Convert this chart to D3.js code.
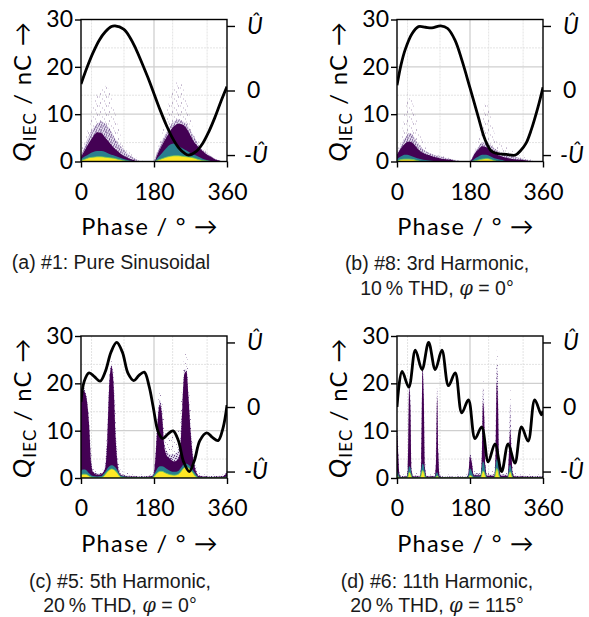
<!DOCTYPE html>
<html><head><meta charset="utf-8">
<script src="https://cdn.jsdelivr.net/npm/d3@7"></script>
<style>body{margin:0;background:#fff} svg{display:block}</style>
</head><body>
<svg id="fig" width="589" height="617"></svg>
<script>
// ---------------- data ----------------
const phaseTicks = [0, 180, 360];
const chargeTicks = [0, 10, 20, 30];
const voltTicks = [-1, 0, 1];
const voltTickLabels = ["-Û", "0", "Û"];
const minorPhaseGrid = [26, 106, 226, 311];
const majorPhaseGrid = [180];
const minorChargeGrid = [4, 14, 24];
const majorChargeGrid = [10, 20];

// cloud rows: [phase°, sparse top, halo top, dense top, teal top, yellow top] in nC
const cloudA = [
 [0,2,1.5,1.0,0.5,0.2],[10,5,3.5,2.5,1.1,0.5],[20,8,5.5,4.0,1.6,0.8],[30,12,7,5.3,2.0,0.9],
 [40,14.5,8,6.2,2.2,1.0],[50,15.5,8.5,6.0,2.2,1.0],[60,16,8,5.0,2.0,0.9],[70,15,7,4.0,1.6,0.8],
 [80,12,5.5,3.0,1.3,0.7],[90,8,4,2.2,1.0,0.5],[100,5,3,1.5,0.7,0.3],[110,3,2,1.0,0.4,0.1],
 [120,2,1.3,0.6,0.2,0],[130,1.2,0.8,0.3,0.1,0],[140,0.6,0.3,0,0,0],[150,0.2,0,0,0,0],
 [160,0,0,0,0,0],[176,0,0,0,0,0],[180,0.3,0.2,0,0,0],[190,3,2.5,1.8,0.9,0.3],
 [200,6,4.5,3.5,1.8,0.6],[210,10,6,5.0,2.8,0.9],[220,14,7.5,6.5,3.6,1.1],[230,16,8.5,7.5,3.8,1.2],
 [240,17,9,8.0,3.3,1.2],[250,16,8.5,7.8,2.8,1.1],[260,13,8,7.0,2.3,1.0],[270,9,6.5,5.5,1.8,0.9],
 [280,6,5,4.0,1.4,0.7],[290,4.5,3.5,3.0,1.0,0.4],[300,3,2.5,2.2,0.6,0.2],[310,2,1.8,1.5,0.3,0.1],
 [320,1.2,1.2,1.0,0.1,0],[330,0.6,0.6,0.5,0,0],[340,0.3,0.3,0.2,0,0],[350,0,0,0,0,0],[360,0,0,0,0,0]
];
const cloudB = [
 [0,2,1.8,1.5,0.5,0.1],[10,5,3.5,2.8,1.1,0.4],[20,11,5,3.8,1.4,0.5],[30,15,6,4.2,1.3,0.5],
 [40,12,5.5,3.8,1.0,0.4],[50,8,4,2.8,0.7,0.2],[60,5,3,2.0,0.5,0],[70,3,2.2,1.6,0.3,0],
 [80,2.2,1.8,1.3,0.2,0],[90,1.8,1.5,1.0,0.1,0],[100,1.5,1.2,0.8,0,0],[110,1.2,1.0,0.6,0,0],
 [120,1.0,0.8,0.5,0,0],[130,0.8,0.6,0.4,0,0],[140,0.5,0.4,0.2,0,0],[150,0.3,0.2,0,0,0],
 [160,0,0,0,0,0],[178,0,0,0,0,0],[185,1,0.8,0.6,0.2,0],[190,2,1.8,1.5,0.5,0.1],
 [200,5,3,2.5,1.0,0.3],[210,9,4,3.2,1.4,0.5],[220,13,4,3.0,1.4,0.6],[230,10,3.5,2.5,1.1,0.5],
 [240,6,2.8,1.8,0.7,0.2],[250,4,2.2,1.3,0.5,0],[260,3.5,1.8,1.0,0.3,0],[270,3,1.5,0.8,0,0],
 [280,2.5,1.2,0.6,0,0],[290,2,1.0,0.5,0,0],[300,1.5,0.8,0.4,0,0],[310,1,0.6,0.3,0,0],
 [320,0.8,0.4,0.2,0,0],[330,0.4,0.2,0,0,0],[340,0,0,0,0,0],[360,0,0,0,0,0]
];
const cloudC = [
 [0,17,16.5,16,1.5,0.6],[5,19.5,19,18.5,1.8,0.8],[10,19,18.5,18,1.8,0.8],[15,17,16.5,16,1.5,0.7],
 [20,13,12,11,1.0,0.4],[25,6,4,3,0.6,0.2],[30,2.5,1.5,1.2,0.4,0.1],[40,1.5,1.0,0.7,0.3,0],
 [50,1.5,1.0,0.8,0.4,0.1],[55,2,1.5,1.2,0.8,0.3],[60,4,3,2.2,1.3,0.8],[65,12,10,8,2.0,1.3],
 [70,22,21,20,2.5,1.7],[75,25,24,23.5,2.7,1.9],[80,23,21.5,20,2.6,1.8],[85,15,11,9,2.2,1.5],
 [90,6,4,3,1.6,1.0],[95,2.5,1.5,1.0,0.8,0.4],[100,1.5,0.8,0.6,0.4,0.1],[120,1.0,0.5,0.3,0.2,0],
 [150,0.8,0.4,0.2,0.1,0],[175,1.0,0.6,0.4,0.2,0],[180,2,1.5,1.0,0.8,0.3],[185,8,7,6,1.5,0.8],
 [190,16,14,13,2.2,1.2],[195,19,16.5,15.5,2.5,1.4],[200,17,14,13,2.5,1.4],[205,12,8,7,2.3,1.2],
 [210,10,6,5,2.0,1.0],[220,9,5,4,1.5,0.7],[230,9,5,3.5,1.3,0.6],[240,10,6,4,1.5,0.8],
 [245,14,8,6,2.0,1.2],[250,20,16,15,2.6,1.8],[255,26,23,22,3.0,2.2],[260,26.5,23,22.5,3.0,2.3],
 [265,22,18,17,2.8,2.1],[270,15,11,10,2.4,1.7],[275,8,6,5,1.8,1.2],[280,4,3,2.5,1.2,0.6],
 [285,2,1.5,1.0,0.6,0.2],[290,1.0,0.6,0.4,0.2,0],[320,0.8,0.4,0.2,0,0],[350,0.8,0.5,0.3,0.1,0],
 [360,1.8,1.5,1.2,0.4,0.1]
];
const cloudD = [
 [0,12,11,10,1.5,0.5],[3,8,6,5,1.0,0.3],[6,2,1.2,0.8,0.3,0],[10,0.8,0.4,0.2,0,0],
 [24,0.8,0.5,0.3,0.1,0],[27,5,3,2,1.0,0.3],[30,22,20.5,19,2.5,1.2],[33,20,17,15,2.2,1.0],
 [36,4,2,1.5,0.8,0.2],[40,1,0.5,0.3,0.1,0],[57,1,0.6,0.3,0.2,0],[60,8,5,4,1.8,0.8],
 [63,25,24,23,3.0,1.6],[66,22,19,17,2.6,1.3],[69,5,3,2,1.0,0.3],[73,1,0.5,0.3,0.1,0],
 [93,1,0.5,0.3,0.1,0],[96,8,4,3,0.8,0.2],[99,21,19,17,1.2,0.5],[102,10,6,5,0.6,0.2],
 [105,1.5,0.8,0.4,0.1,0],[110,0.8,0.3,0.1,0,0],[170,0.8,0.3,0.1,0,0],[176,2,1.2,0.8,0.5,0.1],
 [180,6,5,4.5,2.0,0.6],[184,5,4,3.5,1.5,0.4],[189,1.5,1.0,0.6,0.3,0],[206,1.5,1.0,0.6,0.3,0],
 [209,8,5,4,2.0,0.8],[212,21,19,16,3.5,1.5],[215,18,15,13,3.0,1.2],[218,5,3,2.5,1.2,0.4],
 [222,1.5,0.8,0.5,0.2,0],[240,1.5,0.8,0.5,0.2,0],[243,10,6,5,2.5,1.0],[246,27,24,20,4.0,2.0],
 [249,24,20,16,3.5,1.5],[252,6,4,3,1.2,0.4],[256,1.5,0.8,0.5,0.2,0],[273,1.5,0.8,0.5,0.2,0],
 [276,10,6,5,2.0,0.8],[279,20,16,10,2.8,1.3],[282,12,8,6,2.0,0.8],[285,3,1.5,1.0,0.5,0.1],
 [290,1,0.5,0.3,0,0],[360,0.8,0.4,0.2,0,0]
];

// supply voltage, [phase°, U/Û]
const voltA = [[0,0.10],[15,0.36],[30,0.59],[45,0.78],[60,0.91],[75,0.99],[84,1.0],[105,0.95],[120,0.83],
 [135,0.65],[150,0.43],[165,0.20],[180,-0.05],[195,-0.30],[210,-0.53],[225,-0.73],[240,-0.88],[255,-0.97],
 [265,-1.0],[285,-0.94],[300,-0.82],[315,-0.64],[330,-0.42],[345,-0.17],[360,0.06]];
const voltB = [[0,0.08],[10,0.40],[20,0.63],[37,0.88],[53,0.99],[70,0.98],[86,0.97],[108,1.0],[125,0.96],
 [143,0.78],[160,0.47],[180,0.04],[200,-0.40],[217,-0.76],[233,-0.94],[250,-0.98],[270,-0.99],[292,-1.0],
 [305,-0.93],[318,-0.82],[331,-0.61],[348,-0.25],[360,0.05]];
const voltC = [[0,0.08],[8,0.40],[20,0.53],[33,0.47],[47,0.40],[60,0.55],[74,0.85],[88,1.0],[102,0.85],
 [116,0.52],[130,0.41],[143,0.49],[156,0.54],[168,0.32],[178,0.0],[190,-0.38],[201,-0.49],[214,-0.42],
 [227,-0.37],[240,-0.52],[253,-0.85],[267,-1.0],[280,-0.82],[293,-0.52],[310,-0.40],[324,-0.47],
 [338,-0.52],[350,-0.33],[360,0.03]];
const voltD = [[0,0.0],[12.6,0.55],[29,0.31],[45.3,0.88],[61.6,0.58],[78,1.0],[94.4,0.58],[110.7,0.88],
 [127,0.33],[143.4,0.53],[159.8,-0.09],[176,0.11],[192.5,-0.49],[208.8,-0.31],[225,-0.85],[241.5,-0.57],
 [258,-1.0],[274,-0.57],[290.6,-0.87],[307,-0.31],[323.3,-0.53],[339.7,0.11],[356,-0.12],[360,-0.06]];

const captionA = ["(a) #1: Pure Sinusoidal"];
const captionB = ["(b) #8: 3rd Harmonic,", "10\u2009% THD, φ = 0°"];
const captionC = ["(c) #5: 5th Harmonic,", "20\u2009% THD, φ = 0°"];
const captionD = ["(d) #6: 11th Harmonic,", "20\u2009% THD, φ = 115°"];

// ---------------- layout ----------------
const W = 146, H = 142;
const panels = [
  {x: 81,  y: 19.5, cloud: cloudA, volt: voltA, cap: captionA, capX: 111, capY: 269, capDy: 25.5},
  {x: 397, y: 19.5, cloud: cloudB, volt: voltB, cap: captionB, capX: 437, capY: 269.5, capDy: 25.5},
  {x: 81,  y: 336,  cloud: cloudC, volt: voltC, cap: captionC, capX: 120, capY: 588, capDy: 24},
  {x: 397, y: 336,  cloud: cloudD, volt: voltD, cap: captionD, capX: 437, capY: 588, capDy: 24}
];
const tickFont = "Lato, 'Open Sans', sans-serif";
const fs = 23;
const layerFill = ["url(#sparse)", "url(#halo)", "#440154", "#2a7f8e", "#fde725"];

const svg = d3.select("#fig");
const defs = svg.append("defs");
function dotPattern(id, size, bg, bgOp, dots) {
  const pt = defs.append("pattern").attr("id", id).attr("patternUnits", "userSpaceOnUse")
    .attr("width", size).attr("height", size);
  if (bg) pt.append("rect").attr("width", size).attr("height", size).attr("fill", bg).attr("opacity", bgOp);
  dots.forEach(([dx, dy, op]) => pt.append("rect").attr("x", dx).attr("y", dy)
    .attr("width", 1).attr("height", 1).attr("fill", "#3b0f5e").attr("opacity", op));
}
dotPattern("sparse", 9, null, 0, [[1,2,0.6],[5,0,0.4],[7,5,0.55],[3,7,0.35],[0,5,0.3],[6,3,0.25]]);
dotPattern("halo", 5, "#9c86c0", 0.3, [[0,0,0.85],[2,1,0.7],[4,2,0.8],[1,3,0.6],[3,4,0.75],[3,0,0.4],[0,2,0.5]]);

panels.forEach((p, i) => {
  const x = d3.scaleLinear().domain([0, 360]).range([0, W]);
  const y = d3.scaleLinear().domain([0, 30]).range([H, 0]);
  const yv = d3.scaleLinear().domain([-1.1, 1.1]).range([H, 0]);
  const g = svg.append("g").attr("transform", `translate(${p.x},${p.y})`);
  defs.append("clipPath").attr("id", "clip" + i).append("rect").attr("width", W).attr("height", H);

  // grid
  const grid = g.append("g");
  grid.selectAll(".mx").data(minorPhaseGrid).join("line")
    .attr("x1", d => x(d)).attr("x2", d => x(d)).attr("y1", 0).attr("y2", H)
    .attr("stroke", "#dcdcdc").attr("stroke-width", 0.8).attr("stroke-dasharray", "2,1");
  grid.selectAll(".my").data(minorChargeGrid).join("line")
    .attr("y1", d => y(d)).attr("y2", d => y(d)).attr("x1", 0).attr("x2", W)
    .attr("stroke", "#dcdcdc").attr("stroke-width", 0.8).attr("stroke-dasharray", "2,1");
  grid.selectAll(".Mx").data(majorPhaseGrid).join("line")
    .attr("x1", d => x(d)).attr("x2", d => x(d)).attr("y1", 0).attr("y2", H)
    .attr("stroke", "#cfcfcf").attr("stroke-width", 1.3);
  grid.selectAll(".My").data(majorChargeGrid).join("line")
    .attr("y1", d => y(d)).attr("y2", d => y(d)).attr("x1", 0).attr("x2", W)
    .attr("stroke", "#cfcfcf").attr("stroke-width", 1.3);

  // PD clouds
  const plot = g.append("g").attr("clip-path", `url(#clip${i})`);
  layerFill.forEach((fill, k) => {
    const area = d3.area().x(d => x(d[0])).y0(H).y1(d => y(d[k + 1])).curve(d3.curveMonotoneX);
    const path = plot.append("path").datum(p.cloud).attr("d", area).attr("fill", fill);
    if (k === 4) path.attr("stroke", "#6ccd5a").attr("stroke-width", 0.8);
  });

  // voltage
  const line = d3.line().x(d => x(d[0])).y(d => yv(d[1])).curve(d3.curveCatmullRom.alpha(0.5));
  plot.append("path").datum(p.volt).attr("d", line).attr("fill", "none")
    .attr("stroke", "#000").attr("stroke-width", 2.8).attr("stroke-linejoin", "round");

  // spines
  g.append("rect").attr("width", W).attr("height", H).attr("fill", "none")
    .attr("stroke", "#000").attr("stroke-width", 1.4);

  // axes
  const ax = g.append("g").attr("transform", `translate(0,${H})`)
    .call(d3.axisBottom(x).tickValues(phaseTicks).tickSize(6).tickPadding(16).tickFormat(d3.format("d")));
  const ay = g.append("g")
    .call(d3.axisLeft(y).tickValues(chargeTicks).tickSize(6).tickPadding(2).tickFormat(d3.format("d")));
  const ar = g.append("g").attr("transform", `translate(${W},0)`)
    .call(d3.axisRight(yv).tickValues(voltTicks).tickSize(8).tickPadding(12)
      .tickFormat((d, j) => voltTickLabels[j]));
  [ax, ay, ar].forEach(a => {
    a.select(".domain").remove();
    a.selectAll("line").attr("stroke", "#000").attr("stroke-width", 1.4);
    a.selectAll("text").attr("fill", "#000").style("font-family", tickFont).style("font-size", fs + "px");
  });
  ar.selectAll("text").style("font-style", (d) => d === 0 ? "normal" : "italic")
    .attr("dx", d => d === -1 ? -3 : 0);

  // axis labels
  g.append("text").attr("x", W / 2 - 4).attr("y", H + 73.5).attr("text-anchor", "middle")
    .style("font-family", tickFont).style("font-size", "23.5px").style("letter-spacing", "1.3px")
    .text("Phase / ° →");
  const yl = g.append("text").attr("transform", `translate(-50,${H / 2 + 1}) rotate(-90)`)
    .attr("text-anchor", "middle").style("font-family", tickFont).style("font-size", "24px")
    .style("letter-spacing", "1.2px");
  yl.append("tspan").style("font-style", "italic").style("font-size", "26px").text("Q");
  yl.append("tspan").attr("dy", 5).style("font-size", "17px").text("IEC");
  yl.append("tspan").attr("dy", -5).text(" / nC →");

  // caption
  p.cap.forEach((ln, j) => {
    const t = svg.append("text").attr("x", p.capX).attr("y", p.capY + j * p.capDy)
      .attr("text-anchor", "middle").attr("fill", "#1a1a1a")
      .style("font-family", "'Liberation Sans', Arial, sans-serif").style("font-size", "19.5px");
    const parts = ln.split("φ");
    parts.forEach((s, m) => {
      if (m > 0) t.append("tspan").style("font-family", "'DejaVu Serif', serif").style("font-style", "italic").text("φ");
      t.append("tspan").text(s);
    });
  });
});
</script>
</body></html>
